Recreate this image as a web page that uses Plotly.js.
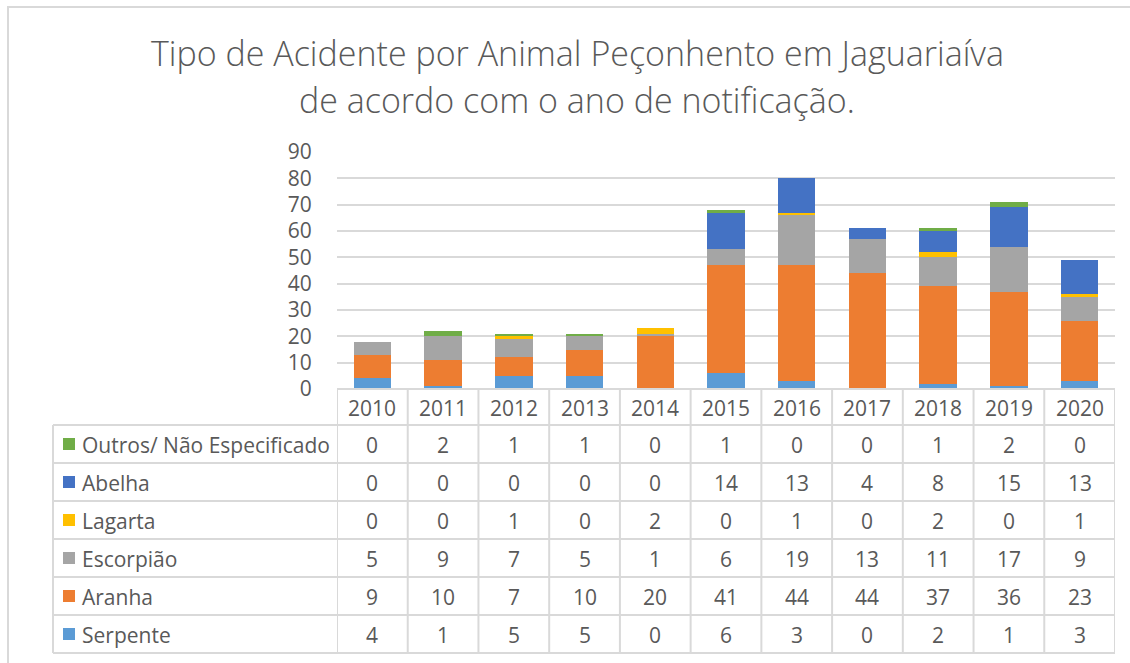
<!DOCTYPE html>
<html>
<head>
<meta charset="utf-8">
<script src="https://cdn.plot.ly/plotly-3.0.1.min.js"></script>
<style>html,body{margin:0;padding:0;background:#fff;}#chart{width:1130px;height:663px;}</style>
</head>
<body>
<div id="chart"></div>
<script>
// ---- data ----
const years = ['2010','2011','2012','2013','2014','2015','2016','2017','2018','2019','2020'];
const seriesNames = ['Serpente','Aranha','Escorpião','Lagarta','Abelha','Outros/ Não Especificado'];
const serpente = [4,1,5,5,0,6,3,0,2,1,3];
const aranha = [9,10,7,10,20,41,44,44,37,36,23];
const escorpiao = [5,9,7,5,1,6,19,13,11,17,9];
const lagarta = [0,0,1,0,2,0,1,0,2,0,1];
const abelha = [0,0,0,0,0,14,13,4,8,15,13];
const outros = [0,2,1,1,0,1,0,0,1,2,0];
const yTicks = [0,10,20,30,40,50,60,70,80,90];
const titleLines = ['Tipo de Acidente por Animal Peçonhento em Jaguariaíva','de acordo com o ano de notificação.'];

// ---- style ----
const colors = ['#5B9BD5','#ED7D31','#A5A5A5','#FFC000','#4472C4','#70AD47'];
const values = [serpente, aranha, escorpiao, lagarta, abelha, outros];
const W = 1130, H = 663;
const px = x => x / W;
const py = y => 1 - y / H;
const FONT = 'Open Sans, sans-serif';
const TXT = '#595959';
const GRID = '#d9d9d9';

const plotLeft = 337, plotRight = 1115, plotTop = 152, plotBottom = 389;
const tableLeft = 53, headerBottom = 425, rowH = 38;
const FS = 21;

const traces = seriesNames.map((n, i) => ({
  type: 'bar', name: n, x: years, y: values[i],
  marker: {color: colors[i], line: {width: 0}},
  hoverinfo: 'x+y+name'
}));

const shapes = [];
const annotations = [];
// outer chart frame
shapes.push({type:'rect', xref:'paper', yref:'paper', x0:px(8), x1:px(1140), y0:py(680), y1:py(7), line:{color:GRID, width:2}});
// title
titleLines.forEach((t, i) => annotations.push({
  text: t, xref:'paper', yref:'paper', x: px(577), y: py(i === 0 ? 53 : 100),
  xanchor:'center', yanchor:'middle', showarrow:false,
  font:{family:FONT, size:34, color:TXT, weight:300}
}));
// table: horizontal lines
const nRows = seriesNames.length;
const tableBottom = headerBottom + nRows * rowH;
shapes.push({type:'line', xref:'paper', yref:'paper', x0:px(plotLeft), x1:px(plotRight), y0:py(plotBottom), y1:py(plotBottom), line:{color:GRID, width:2}});
for (let r = 0; r <= nRows; r++) {
  const y = headerBottom + r * rowH;
  shapes.push({type:'line', xref:'paper', yref:'paper', x0:px(tableLeft), x1:px(plotRight), y0:py(y), y1:py(y), line:{color:GRID, width:2}});
}
// table: vertical lines
shapes.push({type:'line', xref:'paper', yref:'paper', x0:px(tableLeft), x1:px(tableLeft), y0:py(headerBottom), y1:py(tableBottom), line:{color:GRID, width:2}});
for (let c = 0; c <= years.length; c++) {
  shapes.push({type:'line', xref:'x', yref:'paper', x0:c - 0.5, x1:c - 0.5, y0:py(plotBottom), y1:py(tableBottom), line:{color:GRID, width:2}});
}
// header years
years.forEach((yr, c) => annotations.push({
  text: yr, xref:'x', yref:'paper', x: c, y: py((plotBottom + headerBottom) / 2 + 1),
  xanchor:'center', yanchor:'middle', showarrow:false, font:{family:FONT, size:FS, color:TXT}
}));
// rows: top row = last series
for (let r = 0; r < nRows; r++) {
  const si = nRows - 1 - r;
  const yc = headerBottom + r * rowH + rowH / 2;
  shapes.push({type:'rect', xref:'paper', yref:'paper', x0:px(63), x1:px(75), y0:py(yc + 6), y1:py(yc - 6), fillcolor: colors[si], line:{width:0}});
  annotations.push({text: seriesNames[si], xref:'paper', yref:'paper', x: px(80), y: py(yc + 1),
    xanchor:'left', yanchor:'middle', showarrow:false, font:{family:FONT, size:FS, color:TXT}});
  values[si].forEach((v, c) => annotations.push({
    text: String(v), xref:'x', yref:'paper', x: c, y: py(yc + 1),
    xanchor:'center', yanchor:'middle', showarrow:false, font:{family:FONT, size:FS, color:TXT}
  }));
}

const layout = {
  width: W, height: H,
  margin: {l:0, r:0, t:0, b:0},
  paper_bgcolor:'#fff', plot_bgcolor:'#fff',
  barmode:'stack', bargap:0.47,
  showlegend:false,
  xaxis: {domain:[px(plotLeft), px(plotRight)], type:'category', range:[-0.5, years.length - 0.5], autorange:false,
    showticklabels:false, showgrid:false, zeroline:false, showline:false, ticks:''},
  yaxis: {domain:[py(plotBottom), py(plotTop)], range:[0,90], autorange:false, tickvals:yTicks, ticktext:yTicks.map(String),
    showgrid:true, gridcolor:GRID, gridwidth:2, zeroline:false, showline:false,
    ticks:'outside', ticklen:20, tickcolor:'rgba(0,0,0,0)',
    tickfont:{family:FONT, size:FS, color:TXT}},
  shapes: shapes,
  annotations: annotations
};

Plotly.newPlot('chart', traces, layout, {displayModeBar:false, staticPlot:true});
</script>
</body>
</html>
